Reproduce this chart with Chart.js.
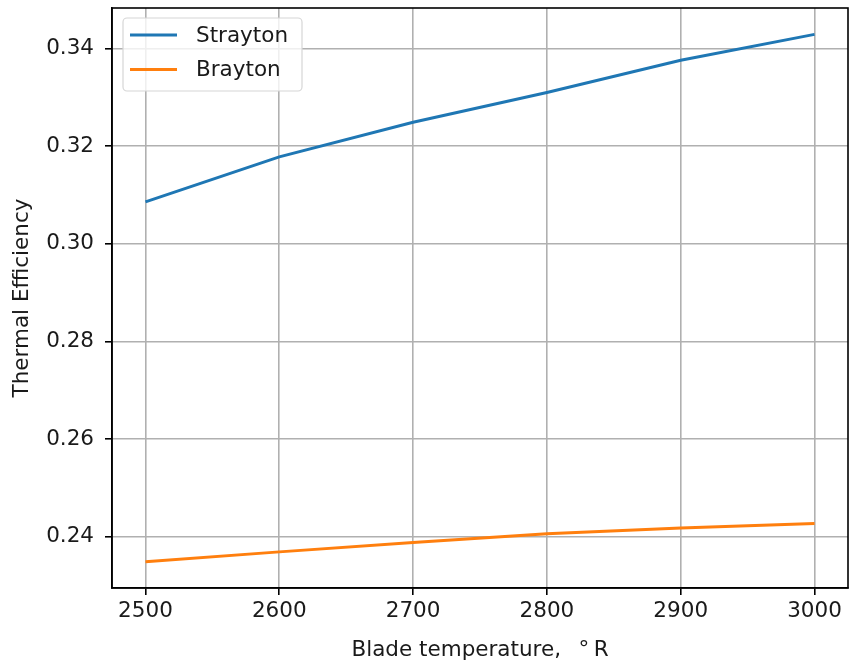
<!DOCTYPE html>
<html>
<head>
<meta charset="utf-8">
<script src="https://cdn.jsdelivr.net/npm/chart.js@4/dist/chart.umd.min.js"></script>
<style>
  html, body { margin: 0; padding: 0; background: #fff; }
  #wrap { width: 849px; height: 666px; }
</style>
</head>
<body>
<div id="wrap"><canvas id="chart" width="849" height="666"></canvas></div>
<script>
// data
const bladeTemps = [2500, 2600, 2700, 2800, 2900, 3000];
const straytonEff = [0.3086, 0.3178, 0.3249, 0.3310, 0.3376, 0.3429];
const braytonEff = [0.2349, 0.2369, 0.2388, 0.2406, 0.2418, 0.2427];
const xTicks = [2500, 2600, 2700, 2800, 2900, 3000];
const yTicks = [0.24, 0.26, 0.28, 0.30, 0.32, 0.34];

const FONT = "'DejaVu Sans', sans-serif";
const FS = 21.5;

const toPoints = (xs, ys) => xs.map((x, i) => ({ x: x, y: ys[i] }));

// frame on top/right + matplotlib style legend
const framePlugin = {
    id: 'frame',
    afterDraw(chart) {
        const ctx = chart.ctx;
        const a = chart.chartArea;
        ctx.save();
        ctx.strokeStyle = '#000';
        ctx.lineWidth = 1.6;
        ctx.strokeRect(a.left, a.top, a.right - a.left, a.bottom - a.top);

        // legend box
        const bx = 123, by = 18, bw = 179, bh = 73;
        ctx.globalAlpha = 0.8;
        ctx.fillStyle = '#fff';
        ctx.beginPath();
        ctx.roundRect(bx, by, bw, bh, 4);
        ctx.fill();
        ctx.globalAlpha = 1;
        ctx.strokeStyle = '#d6d6d6';
        ctx.lineWidth = 1.2;
        ctx.stroke();

        ctx.font = FS + 'px ' + FONT;
        ctx.textBaseline = 'middle';
        ctx.textAlign = 'left';
        chart.data.datasets.forEach((ds, i) => {
            const yy = 35 + i * 34.5;
            ctx.strokeStyle = ds.borderColor;
            ctx.lineWidth = 3;
            ctx.beginPath();
            ctx.moveTo(130, yy);
            ctx.lineTo(177, yy);
            ctx.stroke();
            ctx.fillStyle = '#1a1a1a';
            ctx.fillText(ds.label, 196, yy + 1);
        });
        ctx.restore();
    }
};

const ctx = document.getElementById('chart').getContext('2d');
const myChart = new Chart(ctx, {
    type: 'line',
    data: {
        datasets: [{
            label: 'Strayton',
            data: toPoints(bladeTemps, straytonEff),
            borderColor: '#1f77b4',
            borderWidth: 3,
            pointRadius: 0,
            tension: 0
        }, {
            label: 'Brayton',
            data: toPoints(bladeTemps, braytonEff),
            borderColor: '#ff7f0e',
            borderWidth: 3,
            pointRadius: 0,
            tension: 0
        }]
    },
    options: {
        responsive: false,
        animation: false,
        devicePixelRatio: 1,
        layout: { padding: { top: 8, right: 1, left: 0, bottom: 0 } },
        plugins: {
            legend: { display: false },
            tooltip: { enabled: false }
        },
        scales: {
            x: {
                type: 'linear',
                min: 2475,
                max: 3025,
                afterBuildTicks: (axis) => { axis.ticks = xTicks.map(v => ({ value: v })); },
                afterFit: (axis) => {
                    axis.height = 78;
                    axis.paddingLeft = 0;
                    axis.paddingRight = 0;
                },
                ticks: {
                    autoSkip: false,
                    maxRotation: 0,
                    padding: 4,
                    color: '#1a1a1a',
                    font: { family: FONT, size: FS },
                    callback: (v) => String(v)
                },
                grid: {
                    color: '#b0b0b0',
                    lineWidth: 1.6,
                    drawTicks: true,
                    tickLength: 7,
                    tickColor: '#000',
                    tickWidth: 1.6
                },
                border: { color: '#000', width: 1.6 },
                title: {
                    display: true,
                    text: 'Blade temperature,\u2002 \u00b0\u2009R',
                    color: '#1a1a1a',
                    font: { family: FONT, size: FS },
                    padding: { top: 0, bottom: 3 }
                }
            },
            y: {
                min: 0.2295,
                max: 0.3483,
                afterBuildTicks: (axis) => { axis.ticks = yTicks.map(v => ({ value: v })); },
                afterFit: (axis) => {
                    axis.width = 112;
                    axis.paddingTop = 0;
                    axis.paddingBottom = 0;
                },
                ticks: {
                    padding: 11,
                    color: '#1a1a1a',
                    font: { family: FONT, size: FS },
                    callback: (v) => v.toFixed(2)
                },
                grid: {
                    color: '#b0b0b0',
                    lineWidth: 1.6,
                    drawTicks: true,
                    tickLength: 7,
                    tickColor: '#000',
                    tickWidth: 1.6
                },
                border: { color: '#000', width: 1.6 },
                title: {
                    display: true,
                    text: 'Thermal Efficiency',
                    color: '#1a1a1a',
                    font: { family: FONT, size: FS },
                    padding: { top: 10, bottom: 0 }
                }
            }
        }
    },
    plugins: [framePlugin]
});
</script>
</body>
</html>
